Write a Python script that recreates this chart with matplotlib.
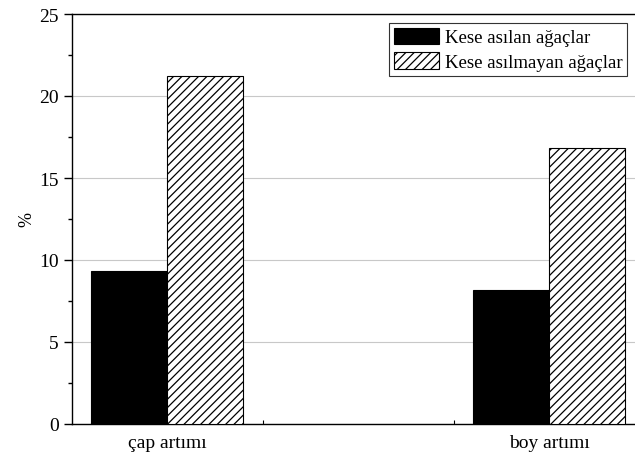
import matplotlib.pyplot as plt
import numpy as np

# kese asılan / asılmayan ağaçlarda artım yüzdeleri
kategori = ["çap artımı", "boy artımı"]
kese_asilan = [9.3, 8.2]
kese_asilmayan = [21.2, 16.8]
seri_adlari = ["Kese asılan ağaçlar", "Kese asılmayan ağaçlar"]

plt.rcParams['font.family'] = ['Liberation Serif', 'DejaVu Serif']
plt.rcParams['font.size'] = 14
plt.rcParams['hatch.linewidth'] = 0.9

fig = plt.figure(figsize=(6.35, 4.56), dpi=100)
ax = fig.add_axes([71.5 / 635, 31 / 456, 573 / 635, 410 / 456])

x = np.arange(1, len(kategori) + 1)
w = 0.2
ax.bar(x - w / 2, kese_asilan, w, color="black", edgecolor="black",
       linewidth=0.8, label=seri_adlari[0], zorder=3)
ax.bar(x + w / 2, kese_asilmayan, w, color="white", edgecolor="black",
       hatch="////", linewidth=0.8, label=seri_adlari[1], zorder=3)

ax.set_xlim(0.75, 2.25)
ax.set_ylim(0, 25)
ax.set_xticks(x)
ax.set_xticklabels(kategori)
ax.set_xticks([1.25, 1.75], minor=True)
ax.set_yticks(np.arange(0, 26, 5))
ax.set_yticks(np.arange(2.5, 25, 5), minor=True)
ax.tick_params(axis="y", which="major", direction="out", length=6, width=1, pad=3)
ax.tick_params(axis="y", which="minor", direction="out", length=3, width=1)
ax.tick_params(axis="x", which="major", length=0, pad=7)
ax.tick_params(axis="x", which="minor", direction="in", length=3, width=0.8)
ax.yaxis.grid(True, color="#c8c8c8", linewidth=0.8, zorder=0)
ax.set_axisbelow(True)
ax.set_ylabel("%", fontsize=13)
ax.yaxis.set_label_coords(-(71.5 - 35) / 573, 0.5)

for s in ax.spines.values():
    s.set_linewidth(1.0)

leg = ax.legend(loc="upper right", bbox_to_anchor=(627 / 635, 1 - 24 / 456),
                bbox_transform=fig.transFigure, borderaxespad=0,
                fancybox=False, framealpha=1, edgecolor="#333333",
                handlelength=2.4, handleheight=1.0, handletextpad=0.3,
                labelspacing=0.3, borderpad=0.25, fontsize=13.5)
leg.get_frame().set_linewidth(0.8)

fig.savefig("out.png", dpi=100)
